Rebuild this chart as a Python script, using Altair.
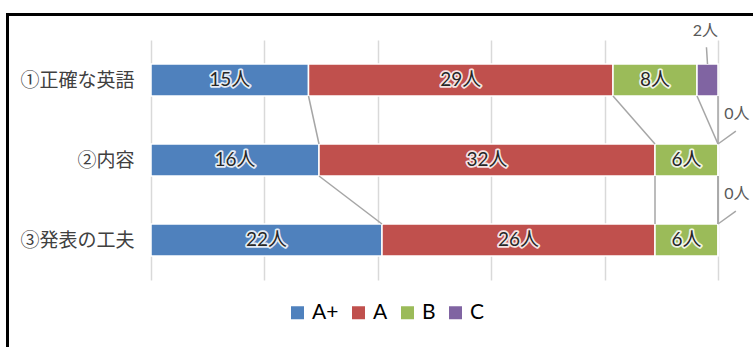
import altair as alt
import pandas as pd

# Evaluation results per item (number of students per grade)
categories = ["①正確な英語", "②内容", "③発表の工夫"]
grades = ["A+", "A", "B", "C"]
grade_colors = ["#4F81BD", "#C0504D", "#9BBB59", "#8064A2"]
count_a_plus = [15, 16, 22]
count_a = [29, 32, 26]
count_b = [8, 6, 6]
count_c = [2, 0, 0]
total = 54
grid_values = [0, 10.8, 21.6, 32.4, 43.2, 54]

HALF = 0.2  # half bar thickness in row units

series = dict(zip(grades, [count_a_plus, count_a, count_b, count_c]))

# stacked segments
rows = []
for r, cat in enumerate(categories):
    start = 0
    for g in grades:
        v = series[g][r]
        rows.append(dict(row=r, cat=cat, grade=g, value=v, start=start,
                         end=start + v, mid=start + v / 2,
                         top=r - HALF, bottom=r + HALF, label=f"{v}人"))
        start += v
seg = pd.DataFrame(rows)

# series lines joining segment ends of neighbouring bars
links = []
for g in grades:
    for r in range(len(categories) - 1):
        a = seg[(seg.row == r) & (seg.grade == g)].iloc[0]
        b = seg[(seg.row == r + 1) & (seg.grade == g)].iloc[0]
        links.append(dict(grade=g, x=a.end, y=a.bottom, x2=b.end, y2=b.top))
links = pd.DataFrame(links)

# outside labels with leader lines (small or empty segments)
call = []
for _, s in seg[seg.grade == "C"].iterrows():
    if s.value > 0:
        call.append(dict(x=s.mid, y=s.top, x2=s.mid - 0.1, y2=s.top - 0.21,
                         tx=s.mid - 0.2, ty=s.top - 0.41, label=s.label))
    else:
        call.append(dict(x=s.end, y=s.top, x2=s.end + 1.7, y2=s.top - 0.16,
                         tx=s.end + 1.8, ty=s.top - 0.37, label=s.label))
call = pd.DataFrame(call)

inside = seg[seg.value >= 4]

LATIN = "Lato, 'Noto Sans CJK JP'"
CJK = "'Noto Sans CJK JP'"

xscale = alt.Scale(domain=[0, total], nice=False, zero=False)
yscale = alt.Scale(domain=[-0.5, 2.5], reverse=True, nice=False, zero=False)

label_expr = "[" + ",".join(f"'{c}'" for c in categories) + "][datum.value]"

x_axis = alt.Axis(values=grid_values, grid=True, gridColor="#d9d9d9",
                  gridWidth=1.5, labels=False, ticks=False, domain=False,
                  title=None)
y_axis = alt.Axis(values=[0, 1, 2], labelExpr=label_expr, grid=False,
                  ticks=False, domain=False, title=None, labelFont=CJK,
                  labelFontSize=19, labelColor="#404040", labelPadding=17)

bars = alt.Chart(seg).mark_bar(stroke="white", strokeWidth=1.5).encode(
    x=alt.X("start:Q", scale=xscale, axis=x_axis),
    x2="end:Q",
    y=alt.Y("top:Q", scale=yscale, axis=y_axis),
    y2="bottom:Q",
    color=alt.Color(
        "grade:N",
        scale=alt.Scale(domain=grades, range=grade_colors),
        sort=grades,
        legend=alt.Legend(
            title=None, orient="none", legendX=136, legendY=262,
            direction="horizontal", symbolType="square", symbolSize=169,
            symbolStrokeWidth=0, labelFont=LATIN, labelFontSize=21,
            labelColor="#000000", labelOffset=4, columnPadding=9,
        ),
    ),
)

link_rules = alt.Chart(links).mark_rule(color="#a6a6a6", strokeWidth=1.5).encode(
    x=alt.X("x:Q", scale=xscale), x2="x2:Q",
    y=alt.Y("y:Q", scale=yscale), y2="y2:Q",
)

halo = alt.Chart(inside).mark_text(
    font=LATIN, fontSize=19, color="white", stroke="white",
    strokeWidth=3.5, strokeJoin="round", strokeOpacity=0.85,
).encode(
    x=alt.X("mid:Q", scale=xscale),
    y=alt.Y("row:Q", scale=yscale),
    text="label:N",
)
values_text = alt.Chart(inside).mark_text(
    font=LATIN, fontSize=19, color="#262626",
).encode(
    x=alt.X("mid:Q", scale=xscale),
    y=alt.Y("row:Q", scale=yscale),
    text="label:N",
)

leaders = alt.Chart(call).mark_rule(color="#a6a6a6", strokeWidth=1.5).encode(
    x=alt.X("x:Q", scale=xscale), x2="x2:Q",
    y=alt.Y("y:Q", scale=yscale), y2="y2:Q",
)
call_text = alt.Chart(call).mark_text(
    font=LATIN, fontSize=16, color="#595959",
).encode(
    x=alt.X("tx:Q", scale=xscale),
    y=alt.Y("ty:Q", scale=yscale),
    text="label:N",
)

# frame lines along the top and left edges
one = alt.Data(values=[{"k": 0}])
frame_top = alt.Chart(one).mark_rule(color="black", strokeWidth=3).encode(
    x=alt.value(-145), x2=alt.value(610), y=alt.value(-25.5)
)
frame_left = alt.Chart(one).mark_rule(color="black", strokeWidth=3).encode(
    x=alt.value(-143.5), y=alt.value(-27), y2=alt.value(320)
)

chart = alt.layer(
    bars, link_rules, halo, values_text, leaders, call_text,
    frame_top, frame_left,
).properties(
    width=567, height=240,
    autosize=alt.AutoSizeParams(type="none"),
    padding={"left": 151, "top": 40, "right": 35, "bottom": 67},
    background="white",
).configure_view(stroke=None)

chart.save("out.html", embed_options={"renderer": "svg", "actions": False})
